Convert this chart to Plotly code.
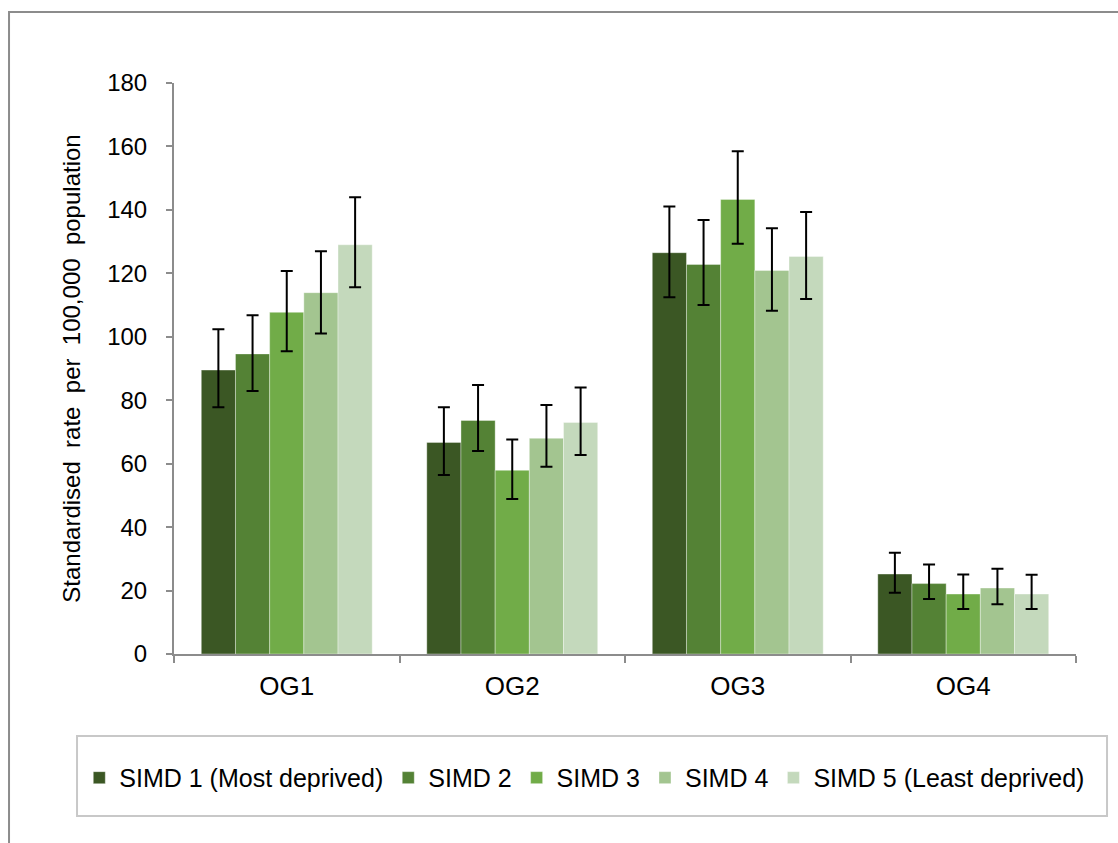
import plotly.graph_objects as go

categories = ["OG1", "OG2", "OG3", "OG4"]
series_names = ["SIMD 1 (Most deprived)", "SIMD 2", "SIMD 3", "SIMD 4", "SIMD 5 (Least deprived)"]
colors = ["#3B5724", "#548235", "#71AC48", "#A3C590", "#C4D9BC"]

simd1 = [89.5, 66.7, 126.5, 25.2]
simd1_lo = [77.8, 56.4, 112.5, 19.3]
simd1_hi = [102.4, 77.8, 141.1, 31.9]

simd2 = [94.6, 73.6, 122.8, 22.2]
simd2_lo = [82.9, 64.0, 110.0, 17.3]
simd2_hi = [106.8, 84.8, 136.8, 28.2]

simd3 = [107.7, 57.9, 143.3, 18.9]
simd3_lo = [95.4, 48.9, 129.3, 14.2]
simd3_hi = [120.7, 67.6, 158.5, 25.1]

simd4 = [113.9, 68.0, 120.9, 20.8]
simd4_lo = [101.0, 59.0, 108.2, 15.7]
simd4_hi = [127.0, 78.5, 134.2, 26.9]

simd5 = [129.0, 73.0, 125.3, 18.9]
simd5_lo = [115.6, 62.7, 111.9, 14.2]
simd5_hi = [144.0, 84.0, 139.3, 25.0]

y_ticks = [0, 20, 40, 60, 80, 100, 120, 140, 160, 180]

values = [simd1, simd2, simd3, simd4, simd5]
lows = [simd1_lo, simd2_lo, simd3_lo, simd4_lo, simd5_lo]
highs = [simd1_hi, simd2_hi, simd3_hi, simd4_hi, simd5_hi]

FONT = "Liberation Sans, Arial, sans-serif"
AXIS_GREY = "#8C8C8C"

fig = go.Figure()
for name, col, v, lo, hi in zip(series_names, colors, values, lows, highs):
    fig.add_trace(go.Bar(
        x=categories, y=v, name=name,
        marker=dict(color=col, line=dict(width=0.8, color="rgba(255,255,255,0.45)")),
        error_y=dict(type="data", symmetric=False,
                     array=[h - a for h, a in zip(hi, v)],
                     arrayminus=[a - l for l, a in zip(lo, v)],
                     color="black", thickness=2, width=6),
    ))

fig.update_layout(
    width=1118, height=843,
    margin=dict(l=174, r=42, t=83, b=189),
    paper_bgcolor="white", plot_bgcolor="white",
    barmode="group", bargap=0.242, bargroupgap=0,
    font=dict(family=FONT, color="black"),
    showlegend=True,
    legend=dict(orientation="h", x=-0.105, xanchor="left", y=-0.217, yanchor="middle",
                font=dict(size=25, family=FONT, color="black"),
                bgcolor="rgba(0,0,0,0)", borderwidth=0, traceorder="normal"),
    xaxis=dict(showline=True, linecolor=AXIS_GREY, linewidth=2,
               ticks="outside", tickson="boundaries", ticklen=7, tickcolor=AXIS_GREY, tickwidth=2,
               tickfont=dict(size=26, family=FONT, color="black"), ticklabelstandoff=8,
               showgrid=False, zeroline=False),
    yaxis=dict(range=[0, 180], tickvals=y_ticks, showline=True, linecolor=AXIS_GREY, linewidth=2,
               ticks="outside", ticklen=6, tickcolor=AXIS_GREY, tickwidth=2,
               tickfont=dict(size=24, family=FONT, color="black"), ticklabelstandoff=14,
               showgrid=False, zeroline=False,
               title=dict(text="Standardised\u00a0 rate\u00a0 per\u00a0 100,000\u00a0 population",
                          font=dict(size=24, family=FONT, color="black"), standoff=20)),
    shapes=[
        dict(type="rect", xref="paper", yref="paper",
             x0=-0.1829, x1=1.3, y0=-0.5, y1=1.1243,
             line=dict(color=AXIS_GREY, width=2), fillcolor="rgba(0,0,0,0)", layer="below"),
        dict(type="rect", xref="paper", yref="paper",
             x0=-0.1075, x1=1.0344, y0=-0.2837, y1=-0.1436,
             line=dict(color="#C8C8C8", width=2), fillcolor="rgba(0,0,0,0)", layer="below"),
    ],
)

fig.write_html("out.html")
